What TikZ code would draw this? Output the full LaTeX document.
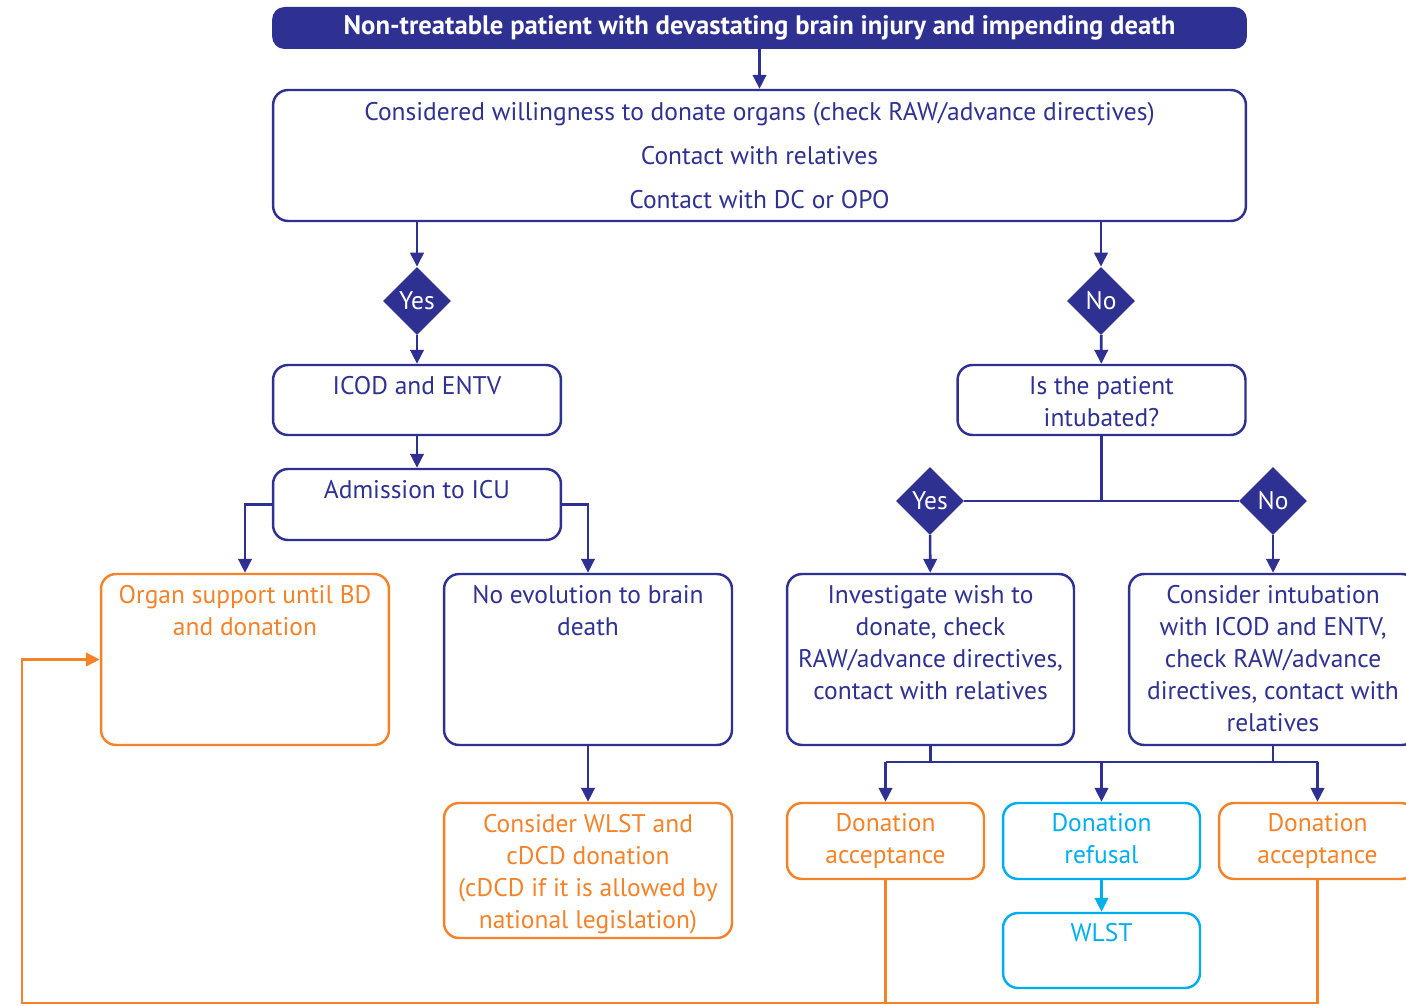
\documentclass[tikz,border=0pt]{standalone}
\usepackage{fontspec}
\setmainfont{PT Sans}
\usetikzlibrary{shapes.geometric,positioning,arrows.meta,calc}
\definecolor{navy}{RGB}{46,49,146}
\definecolor{orng}{RGB}{245,130,40}
\definecolor{cyn}{RGB}{0,174,239}

\begin{document}
\begin{tikzpicture}[x=0.02cm, y=-0.02cm,
  bx/.style={draw=navy, line width=1.4pt, rounded corners=0.3cm, minimum width=5.76cm, inner sep=0pt},
  obx/.style={bx, draw=orng},
  cbx/.style={bx, draw=cyn},
  txt/.style={anchor=north, align=center, inner sep=0pt, text=navy, font=\fontsize{14.5pt}{18.2pt}\selectfont},
  otxt/.style={txt, text=orng},
  ctxt/.style={txt, text=cyn},
  dec/.style={diamond, fill=navy, text=white, minimum size=1.36cm, inner sep=0pt, font=\fontsize{14.5pt}{17pt}\selectfont},
  ln/.style={line width=1.5pt, draw=navy},
  arr/.style={ln, -{Triangle[length=0.28cm,width=0.27cm]}},
  oln/.style={line width=1.5pt, draw=orng},
]
\useasboundingbox (0,0) rectangle (1406,1006);
\clip (0,0) rectangle (1406,1006);

% ====== Top ======
\node[fill=navy, rounded corners=0.25cm, minimum width=19.5cm, minimum height=0.84cm, text=white,
  font=\fontsize{15.2pt}{17pt}\bfseries\selectfont] (head) at (759.5,28)
  {Non-treatable patient with devastating brain injury and impending death};
\node[bx, minimum width=19.46cm, minimum height=2.62cm, align=center, text=navy,
  font=\fontsize{14.5pt}{25pt}\selectfont] (wish) at (759.5,155.5)
  {Considered willingness to donate organs (check RAW/advance directives)\\
   Contact with relatives\\
   Contact with DC or OPO};
\draw[arr] (head) -- (wish);

\node[dec] (yesA) at (417,301) {Yes};
\node[dec] (noA) at (1101,301) {No};
\draw[arr] (yesA |- wish.south) -- (yesA.north);
\draw[arr] (noA |- wish.south) -- (noA.north);

% ====== Left branch ======
\node[bx, minimum height=1.4cm] (icod) at (417,400) {};
\node[txt] (icodT) at ([yshift=-0.25cm]icod.north) {ICOD and ENTV};
\node[bx, minimum height=1.42cm] (adm) at (417,504.5) {};
\node[txt] (admT) at ([yshift=-0.25cm]adm.north) {Admission to ICU};
\draw[arr] (yesA) -- (icod);
\draw[arr] (icod) -- (adm);

\node[obx, minimum height=3.42cm] (organ) at (245,659.5) {};
\node[otxt] (organT) at ([yshift=-0.25cm]organ.north) {Organ support until BD\\and donation};
\node[bx, minimum height=3.42cm] (noevo) at (588,659.5) {};
\node[txt] (noevoT) at ([yshift=-0.25cm]noevo.north) {No evolution to brain\\death};
\node[obx, minimum height=2.7cm] (wlstd) at (588,870.5) {};
\node[otxt] (wlstdT) at ([yshift=-0.25cm]wlstd.north)
  {Consider WLST and\\cDCD donation\\(cDCD if it is allowed by\\national legislation)};
\draw[arr] (adm.west) -| (organ.north);
\draw[arr] (adm.east) -| (noevo.north);
\draw[arr] (noevo) -- (wlstd);

% ====== Right branch ======
\node[bx, minimum height=1.4cm] (intub) at (1101.5,400) {};
\node[txt] (intubT) at ([yshift=-0.25cm]intub.north) {Is the patient\\intubated?};
\draw[arr] (noA) -- (intub);

\node[dec] (yesB) at (930,501) {Yes};
\node[dec] (noB) at (1273,501) {No};
\draw[ln] (intub.south) -- (intub.south |- yesB);
\draw[ln] (yesB.east) -- (noB.west);

\node[bx, minimum width=5.74cm, minimum height=3.42cm] (invest) at (930.5,659.5) {};
\node[txt] (investT) at ([yshift=-0.25cm]invest.north)
  {Investigate wish to\\donate, check\\RAW/advance directives,\\contact with relatives};
\node[bx, minimum height=3.42cm] (consid) at (1273,659.5) {};
\node[txt] (considT) at ([yshift=-0.25cm]consid.north)
  {Consider intubation\\with ICOD and ENTV,\\check RAW/advance\\directives, contact with\\relatives};
\draw[arr] (yesB) -- (invest);
\draw[arr] (noB) -- (consid);

\node[obx, minimum width=3.94cm, minimum height=1.52cm] (accL) at (885.5,841) {};
\node[otxt] (accLT) at ([yshift=-0.22cm]accL.north) {Donation\\acceptance};
\node[cbx, minimum width=3.94cm, minimum height=1.52cm] (refus) at (1101.5,841) {};
\node[ctxt] (refusT) at ([yshift=-0.22cm]refus.north) {Donation\\refusal};
\node[obx, minimum width=3.94cm, minimum height=1.52cm] (accR) at (1317.5,841) {};
\node[otxt] (accRT) at ([yshift=-0.22cm]accR.north) {Donation\\acceptance};
\node[cbx, minimum width=3.94cm, minimum height=1.5cm] (wlst) at (1101.5,950.5) {};
\node[ctxt] (wlstT) at ([yshift=-0.22cm]wlst.north) {WLST};

\coordinate (bus) at (1101.5,762);
\draw[ln] (invest.south) -- (invest.south |- bus);
\draw[ln] (consid.south) -- (consid.south |- bus);
\draw[ln] (accL.north |- bus) -- (accR.north |- bus);
\draw[arr] (accL.north |- bus) -- (accL.north);
\draw[arr] (bus) -- (refus.north);
\draw[arr] (accR.north |- bus) -- (accR.north);
\draw[line width=1.5pt, draw=cyn, -{Triangle[length=0.28cm,width=0.27cm]}] (refus) -- (wlst);

% ====== Loop back ======
\coordinate (loop) at (22,1003);
\draw[oln, -{Triangle[length=0.28cm,width=0.27cm]}] (accL.south) |- (loop) |- (organ.west);
\draw[oln] (accR.south) |- (accL.south |- loop);

\end{tikzpicture}
\end{document}
